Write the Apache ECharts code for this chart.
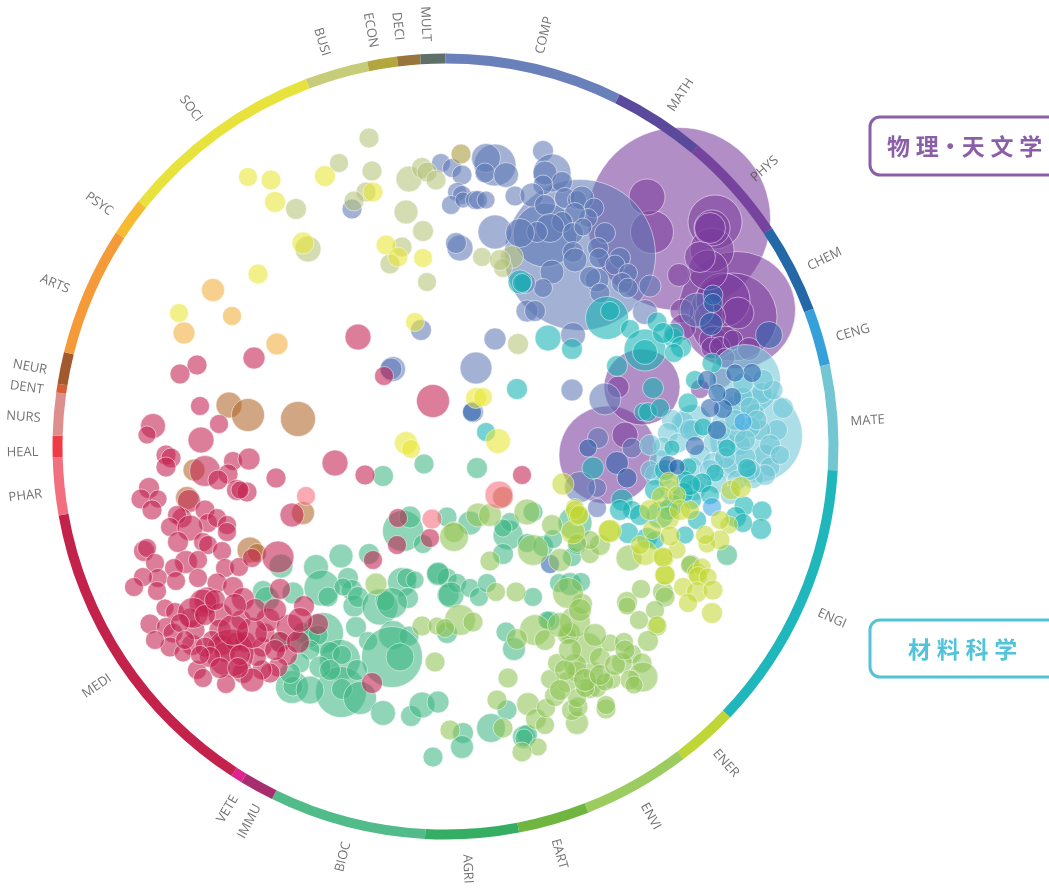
<!DOCTYPE html>
<html><head><meta charset="utf-8">
<style>html,body{margin:0;padding:0;background:#fff}#c{width:1049px;height:890px}</style>
<script src="https://cdn.jsdelivr.net/npm/echarts@6/dist/echarts.min.js"></script>
</head><body><div id="c"></div>
<script>
// Ring: field names, angular extent in degrees, colours
const fields = ['COMP','MATH','PHYS','CHEM','CENG','MATE','ENGI','ENER','ENVI','EART','AGRI','BIOC','IMMU','VETE','MEDI','PHAR','HEAL','NURS','DENT','NEUR','ARTS','PSYC','SOCI','BUSI','ECON','DECI','MULT'];
const fieldSpans = [26.3,13.7,16.2,13.3,8.4,15.6,40.1,9.1,16,10.5,13.8,23.2,5.1,1.7,46.9,8.5,3.2,6.3,1.3,4.7,19.1,5.6,30.6,9.3,4.4,3.4,3.7];
const fieldColors = ['#6a80ba','#5b4a9c','#76449e','#2568a8','#35a0da','#74c6d3','#1fb7bb','#c0d636','#9ccb5f','#6fb53f','#35ae63','#52bb8a','#a82d6e','#de2490','#c3234b','#f26f80','#ef3c44','#dc8f8c','#d85f33','#a3592e','#f59a38','#f6bb30','#e7e33c','#c6cc78','#b3a63f','#97753c','#5e7067'];
// Label directions around the ring (degrees clockwise from top)
const labelAngles = [13.5,33.8,49,63.7,74.4,86.5,114,138.5,151,164.4,177,194,207.6,211,235.5,263.3,269.2,274,278,280.8,292.6,305,323,343,349.8,353.5,357.3];

// Bubbles: [x, y, diameter]
const purple = [[679,219,182],[737,310,116],[608,455,97],[642,387,75],[733,317,87],[723,300,53],[715,222,53],[712,250,43],[652,232,42],[647,197,35],[712,228,35],[710,228,30],[708,270,39],[700,257,30],[738,313,31],[679,275,22],[682,311,23],[683,327,25],[710,317,30],[713,340,27],[725,340,27],[712,348,21],[720,347,20],[733,340,19],[725,358,19],[749,349,22],[618,387,21],[625,435,25],[722,378,18],[700,389,18]];
const slate = [[580,255,150],[545,235,63],[495,232,33],[495,165,41],[486,158,28],[485,173,19],[506,175,24],[441,163,18],[452,168,18],[462,175,19],[457,192,18],[462,195,18],[451,205,18],[463,200,15],[475,200,18],[478,200,18],[486,200,17],[515,196,19],[543,151,20],[552,173,37],[545,173,23],[562,182,20],[543,185,19],[532,195,23],[545,205,20],[565,198,20],[577,200,18],[582,198,23],[594,208,19],[588,218,18],[575,213,20],[562,222,20],[550,228,28],[537,232,20],[573,233,20],[583,227,17],[605,233,20],[598,248,20],[573,252,20],[575,260,23],[599,258,19],[620,258,20],[615,265,19],[628,273,18],[622,283,20],[628,288,19],[650,286,21],[597,280,23],[590,277,20],[600,293,19],[552,272,23],[543,288,18],[527,311,21],[535,311,20],[525,283,20],[520,233,28],[460,248,25],[456,243,20],[645,312,24],[573,335,24],[495,339,21],[476,368,31],[572,390,21],[605,399,31],[473,412,20],[697,310,33],[352,209,19],[421,330,20],[393,369,24],[391,369,21],[598,438,20],[632,448,19],[597,488,18],[580,487,30],[597,508,18]];
const khaki = [[369,138,19],[339,163,18],[372,171,19],[366,192,19],[354,201,19],[296,209,20],[308,249,25],[409,179,25],[422,168,20],[427,172,19],[436,180,19],[406,212,23],[423,231,20],[402,247,19],[390,264,19],[427,282,18],[512,257,22],[503,268,18],[482,257,18],[518,344,20],[500,260,20]];
const tan = [[461,154,19]];
const paleTeal = [[756,436,92],[745,380,70],[693,423,36],[683,423,22],[672,420,20],[668,433,20],[663,447,19],[660,460,20],[678,443,19],[693,430,20],[713,443,19],[740,445,20],[727,443,19],[755,413,18],[762,393,20],[773,390,19],[783,408,20],[777,430,20],[760,430,20],[750,427,20],[765,455,21],[770,467,19],[727,468,20],[700,455,20],[713,463,20],[692,467,19],[737,480,19],[702,483,19],[717,483,20],[753,478,20],[765,475,20],[743,397,19],[743,383,20],[763,380,20],[750,407,19],[757,420,19],[737,433,18],[663,475,20],[678,470,20],[745,458,21],[725,458,20],[650,445,20],[655,475,20],[670,490,20],[695,490,20],[730,495,18],[650,470,18],[690,430,20],[720,430,20],[735,420,20],[770,445,20],[780,455,18],[745,440,20],[710,470,20],[750,470,20]];
const teal = [[607,318,42],[610,311,18],[548,338,25],[572,349,20],[517,389,20],[630,329,18],[657,322,19],[645,350,41],[645,352,24],[673,338,19],[674,333,19],[663,333,20],[681,347,20],[674,353,18],[617,366,20],[653,388,20],[520,282,23],[522,283,18],[643,412,17],[648,412,18],[660,408,18],[688,403,19],[695,380,18],[712,363,19],[703,427,17],[672,448,15],[727,448,17],[688,467,17],[747,468,18],[685,480,17],[715,473,17],[702,483,19],[692,500,18],[683,493,20],[673,505,20],[593,468,21],[622,500,21],[632,510,18],[620,510,20],[744,506,19],[762,511,19],[761,529,20],[736,517,20],[743,523,18],[697,520,18],[628,533,20],[647,538,20],[685,535,17],[660,515,26],[486,432,18],[668,510,20],[655,490,20],[690,485,20],[710,495,18],[640,515,20],[655,540,18],[665,470,20]];
const deepBlue = [[769,335,26],[713,295,19],[713,303,18],[711,324,22],[752,373,18],[735,373,17],[732,397,18],[723,409,18],[710,408,18],[717,430,18],[695,446,18],[668,465,18],[677,467,15],[707,380,18],[717,393,17],[617,463,22],[627,478,19],[588,448,17],[550,564,18],[472,412,18]];
const skyBlue = [[712,507,18],[743,422,17]];
const green = [[403,531,40],[410,517,21],[423,544,18],[447,517,19],[341,556,23],[316,567,24],[369,554,20],[322,588,35],[328,597,19],[263,591,20],[267,599,24],[293,593,21],[348,578,20],[352,590,20],[343,587,17],[354,606,21],[358,597,20],[380,607,35],[402,582,28],[407,578,19],[415,580,17],[408,598,20],[385,601,19],[392,603,30],[438,573,21],[447,578,19],[448,595,21],[356,627,20],[323,633,40],[368,641,18],[393,635,28],[409,636,19],[392,657,60],[400,657,27],[340,660,40],[341,692,50],[303,633,20],[310,637,20],[318,635,19],[300,642,20],[310,650,19],[330,652,20],[342,655,18],[300,663,19],[320,667,21],[330,670,20],[357,670,20],[292,687,32],[293,686,19],[310,690,27],[342,689,20],[360,698,32],[383,713,24],[411,716,20],[422,705,25],[438,702,21],[280,642,20],[290,673,20],[424,464,19],[383,476,20],[477,468,20],[281,566,23],[470,523,23],[508,535,29],[510,522,18],[503,528,17],[503,554,20],[527,543,18],[543,546,20],[553,539,18],[572,557,18],[577,545,18],[533,512,19],[575,523,33],[438,574,22],[457,583,18],[451,595,25],[470,588,18],[479,597,18],[487,583,18],[533,597,18],[506,632,19],[550,621,19],[547,620,17],[514,649,22],[447,633,20],[491,728,28],[507,710,19],[463,733,20],[462,747,22],[433,757,19],[524,737,22],[527,735,20],[524,738,17],[559,583,18],[570,584,22],[581,582,18],[727,555,20]];
const earth = [[490,561,19],[496,592,18],[516,592,19],[422,626,19],[437,626,17],[460,620,30],[473,622,19],[435,662,19],[508,678,19],[497,700,19],[528,704,22],[450,730,19],[503,728,19],[538,747,17],[522,752,19],[536,719,20],[545,725,18],[546,708,18],[577,723,22],[572,710,20],[578,707,19],[606,709,19],[606,705,18],[555,696,20],[567,682,20],[550,679,18],[557,663,18],[577,672,20],[593,672,20],[587,648,30],[600,658,20],[610,643,17],[624,642,18],[632,654,18],[622,663,20],[642,663,19],[643,677,29],[630,680,19],[634,685,17],[612,680,17],[590,688,20],[597,688,18],[605,682,17],[577,698,18],[585,688,18],[570,633,20],[567,635,18],[575,622,30],[535,630,30],[517,639,20],[582,604,20],[568,593,30],[657,626,19],[648,641,20],[639,620,18],[627,602,20],[627,606,17],[641,589,18],[663,592,20],[665,597,19],[655,610,18],[527,512,25],[478,515,23],[490,515,22],[454,532,20],[454,537,28],[552,525,20],[533,550,30],[560,560,22],[590,554,18],[600,545,20],[590,540,18],[376,584,21],[629,558,25],[691,564,18],[690,565,18],[445,628,18],[577,543,18],[575,665,22],[585,680,22],[600,675,20],[565,670,20],[560,690,20],[615,665,20],[625,650,19],[570,650,22],[595,635,22],[545,640,20],[560,625,24],[580,610,22]];
const lime = [[669,482,19],[662,497,20],[677,495,17],[668,518,22],[731,490,19],[741,487,20],[729,525,17],[720,540,19],[707,544,17],[609,531,21],[573,532,23],[645,553,24],[664,558,19],[665,575,20],[697,573,19],[677,550,17],[670,536,19],[652,530,18],[702,567,17],[698,576,18],[708,577,17],[683,587,18],[697,592,20],[713,590,19],[688,603,18],[712,613,20],[657,625,17],[665,575,19],[663,557,19],[563,484,21],[575,508,18],[578,515,20],[610,531,22],[575,510,18],[579,515,18],[640,545,18],[680,510,20],[650,510,20],[720,520,18],[705,535,18],[690,510,18]];
const yellow = [[248,177,18],[271,180,19],[275,202,20],[303,243,21],[258,274,19],[179,313,18],[325,176,20],[373,192,19],[386,245,19],[398,257,19],[423,258,18],[415,322,18],[476,398,20],[483,397,18],[406,443,22],[411,449,18],[498,441,24]];
const orange = [[213,290,22],[232,316,18],[184,333,21],[277,344,21]];
const brown = [[229,405,25],[248,415,32],[298,419,34],[194,470,21],[187,498,22],[250,550,25],[257,553,18],[303,513,22],[503,497,20]];
const crimson = [[254,358,21],[197,365,19],[180,374,19],[358,337,25],[384,376,18],[433,401,32],[200,406,18],[219,424,18],[153,426,24],[147,435,17],[201,440,25],[166,455,19],[171,458,19],[166,467,19],[205,471,30],[233,461,18],[249,459,21],[228,474,19],[218,480,19],[276,478,19],[237,490,20],[247,492,19],[240,490,17],[335,463,25],[365,475,19],[149,488,20],[141,499,19],[158,499,17],[152,510,19],[189,501,22],[205,510,19],[182,518,19],[177,515,18],[170,527,18],[208,523,18],[217,518,18],[227,525,18],[227,532,18],[190,528,25],[178,542,20],[203,542,18],[208,545,18],[222,551,18],[144,551,20],[147,548,18],[155,563,18],[186,562,22],[198,560,18],[174,568,18],[225,568,18],[239,567,18],[278,557,31],[252,558,18],[158,578,18],[143,577,18],[176,581,18],[198,578,18],[217,583,19],[233,587,20],[134,587,18],[157,591,18],[207,600,25],[203,603,27],[243,599,22],[280,589,20],[304,606,20],[292,515,23],[398,518,18],[397,545,18],[430,538,18],[373,560,18],[372,683,20],[522,475,18],[150,624,19],[165,608,17],[175,612,18],[166,627,18],[173,633,19],[170,647,19],[192,645,20],[195,630,19],[190,618,19],[220,615,23],[241,620,19],[220,630,21],[212,640,18],[222,645,20],[225,652,20],[235,642,18],[245,642,20],[262,647,19],[265,633,19],[268,620,23],[290,628,27],[280,642,20],[287,655,20],[278,667,19],[270,673,19],[262,670,19],[243,673,20],[252,680,23],[257,657,18],[230,653,47],[205,647,19],[197,670,18],[203,678,18],[226,684,18],[210,657,20],[183,653,17],[193,613,30],[180,623,18],[252,633,30],[233,630,30],[318,624,20],[205,615,20],[215,600,20],[255,610,22],[275,650,20],[240,655,20],[220,668,20],[275,610,22],[235,605,22],[155,640,18],[185,640,18],[200,655,18],[238,668,20],[298,642,22],[300,620,24]];
const lightPink = [[306,496,18],[432,519,19],[499,495,27]];

const groups = [
  [purple,'#7a3d9c'],[slate,'#5f78b5'],[khaki,'#b5c27a'],[tan,'#a8983a'],[paleTeal,'#6fc6d6'],[teal,'#14b2b4'],[deepBlue,'#2b63ad'],[skyBlue,'#3ca5e5'],
  [green,'#3fb684'],[earth,'#8fc457'],[lime,'#c2d833'],[yellow,'#e8e533'],[orange,'#f0ae38'],[brown,'#b0652a'],[crimson,'#c2204f'],[lightPink,'#f56c7c']
];

const chart = echarts.init(document.getElementById('c'), null, {renderer:'canvas'});
const cx = 445.5, cy = 446.5;
const series = groups.map(([d,c])=>({
  type:'scatter', xAxisIndex:0, yAxisIndex:0, z:2, data:d, silent:true,
  symbolSize:v=>v[2]+1,
  itemStyle:{color:c, opacity:0.58, borderColor:'rgba(255,255,255,0.85)', borderWidth:1},
  emphasis:{disabled:true}, animation:false
}));
series.push({
  type:'pie', center:[cx,cy], radius:[383,393], startAngle:90, clockwise:true, silent:true, animation:false,
  label:{show:false}, labelLine:{show:false}, z:3, itemStyle:{borderWidth:0},
  data:fields.map((n,i)=>({name:n,value:fieldSpans[i],itemStyle:{color:fieldColors[i]}}))
});
series.push({
  type:'scatter', coordinateSystem:'polar', polarIndex:0, z:5, silent:true, animation:false, symbolSize:1,
  itemStyle:{color:'rgba(0,0,0,0)'},
  data:fields.map((n,i)=>{
    const a=labelAngles[i];
    return {name:n,value:[423,a],label:{rotate:a>180?(270-a):(90-a)}};
  }),
  label:{show:true,position:'inside',formatter:'{b}',fontFamily:'"Open Sans",sans-serif',fontSize:13,color:'#4f4f4f'}
});
const boxes = [
 {shape:{x:870,y:117,width:200,height:58,r:10},color:'#8a5fa8',text:'物\u2005理·天\u2005文\u2005学',tx:887,ty:146},
 {shape:{x:870,y:620,width:200,height:57,r:10},color:'#52c3d9',text:'材\u2005料\u2005科\u2005学',tx:908,ty:649}
];
chart.setOption({
  animation:false, backgroundColor:'#fff',
  grid:{left:0,top:0,right:0,bottom:0,containLabel:false},
  xAxis:{type:'value',min:0,max:1049,show:false},
  yAxis:{type:'value',min:0,max:890,inverse:true,show:false},
  polar:{center:[cx,cy],radius:430},
  angleAxis:{type:'value',min:0,max:360,startAngle:90,clockwise:true,show:false},
  radiusAxis:{type:'value',min:0,max:430,show:false},
  series,
  graphic:boxes.flatMap(b=>[
    {type:'rect',shape:b.shape,style:{fill:'#fff',stroke:b.color,lineWidth:3},z:10},
    {type:'text',x:b.tx,y:b.ty,style:{text:b.text,fill:b.color,font:'bold 23px "Noto Sans CJK SC"',textVerticalAlign:'middle'},z:11}
  ])
});
</script></body></html>
